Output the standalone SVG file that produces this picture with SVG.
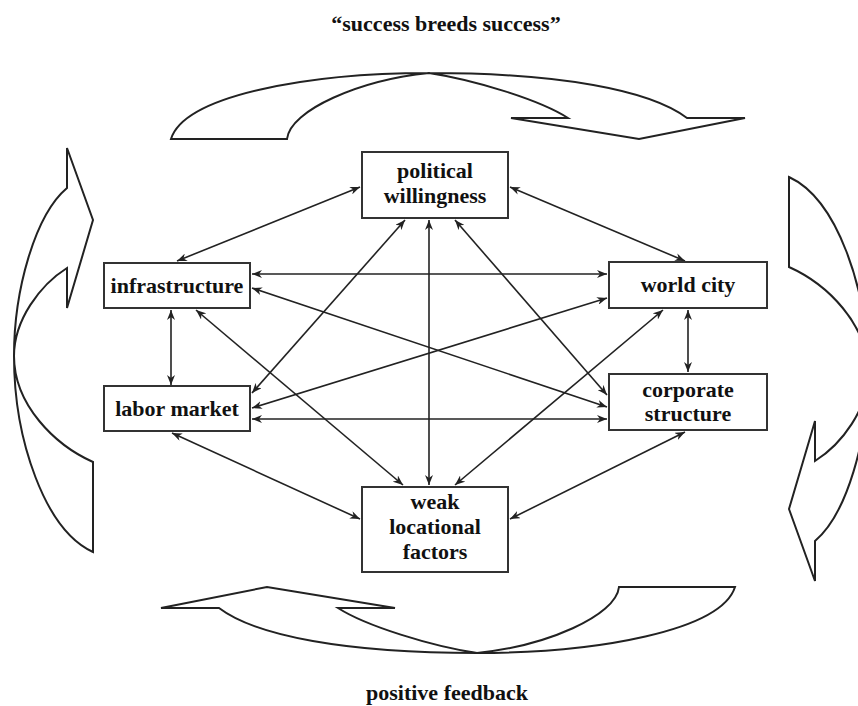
<svg xmlns="http://www.w3.org/2000/svg" xmlns:xlink="http://www.w3.org/1999/xlink" width="858" height="706" viewBox="0 0 858 706">
<style>
.big{fill:#fff;stroke:#222;stroke-width:2;stroke-linejoin:miter}
.box{fill:#fff;stroke:#333;stroke-width:2}
.lbl{font-family:"Liberation Serif","Times New Roman",serif;font-weight:bold;font-size:22px;fill:#111;text-anchor:middle}
.cap{font-family:"Liberation Serif","Times New Roman",serif;font-weight:bold;font-size:22px;fill:#111;text-anchor:middle}
.con line{stroke:#222;stroke-width:1.6;marker-start:url(#ah);marker-end:url(#ah)}
</style>
<defs>
<marker id="ah" viewBox="0 0 10 8" refX="10" refY="4" markerWidth="10" markerHeight="8" markerUnits="userSpaceOnUse" orient="auto-start-reverse">
<path d="M0,0 L10,4 L0,8 L3,4 z" fill="#222"/>
</marker>
<path id="hArrow" d="M171,139 C185,95 310,73 429,73 C560,73 650,90 687,118 L745,118 L639,139 L511,118 L568,118 C540,100 475,80 429,73 C360,80 290,110 287,139 Z"/>
<path id="vArrow" d="M93,552 C45,530 14,440 14,356 C14,290 35,215 67,188 L67,148 L93,220 L67,308 L67,268 C40,285 14,320 14,356 C14,405 55,445 93,462 Z"/>
</defs>
<g id="feedback-arrows">
<use xlink:href="#hArrow" class="big"/>
<use xlink:href="#hArrow" class="big" transform="rotate(180 453 363)"/>
<use xlink:href="#vArrow" class="big"/>
<use xlink:href="#vArrow" class="big" transform="rotate(180 441 364.5)"/>
</g>
<text class="cap" x="446" y="31">“success breeds success”</text>
<text class="cap" x="447" y="700">positive feedback</text>
<g id="connectors" class="con">
<line x1="177" y1="261" x2="360" y2="187"/>
<line x1="510" y1="187" x2="685" y2="261"/>
<line x1="252" y1="274" x2="607" y2="274"/>
<line x1="252" y1="288" x2="607" y2="407"/>
<line x1="252" y1="408" x2="607" y2="298"/>
<line x1="252" y1="393" x2="405" y2="220"/>
<line x1="429" y1="220" x2="429" y2="485"/>
<line x1="455" y1="220" x2="607" y2="395"/>
<line x1="663" y1="310" x2="455" y2="485"/>
<line x1="688" y1="310" x2="688" y2="372"/>
<line x1="171" y1="310" x2="171" y2="385"/>
<line x1="196" y1="310" x2="403" y2="485"/>
<line x1="252" y1="419" x2="607" y2="419"/>
<line x1="172" y1="433" x2="360" y2="519"/>
<line x1="685" y1="432" x2="510" y2="519"/>
</g>
<g id="political">
<rect class="box" x="362" y="152" width="146" height="66"/>
<text class="lbl" x="435" y="178">political</text>
<text class="lbl" x="435" y="203">willingness</text>
</g>
<g id="infrastructure">
<rect class="box" x="104" y="263" width="146" height="45"/>
<text class="lbl" x="177" y="293">infrastructure</text>
</g>
<g id="worldcity">
<rect class="box" x="609" y="262" width="158" height="46"/>
<text class="lbl" x="688" y="292">world city</text>
</g>
<g id="labormarket">
<rect class="box" x="104" y="386" width="146" height="45"/>
<text class="lbl" x="177" y="416">labor market</text>
</g>
<g id="corporate">
<rect class="box" x="609" y="374" width="158" height="56"/>
<text class="lbl" x="688" y="397">corporate</text>
<text class="lbl" x="688" y="421">structure</text>
</g>
<g id="weak">
<rect class="box" x="362" y="487" width="146" height="85"/>
<text class="lbl" x="435" y="509">weak</text>
<text class="lbl" x="435" y="534">locational</text>
<text class="lbl" x="435" y="559">factors</text>
</g>
</svg>
